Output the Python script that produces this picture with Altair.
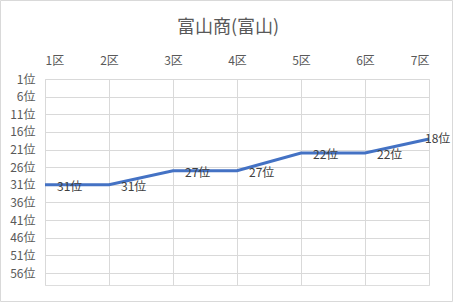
import altair as alt
import pandas as pd

sections = [1, 2, 3, 4, 5, 6, 7]
ranks = [31, 31, 27, 27, 22, 22, 18]
y_ticks = [1, 6, 11, 16, 21, 26, 31, 36, 41, 46, 51, 56]
title_text = "富山商(富山)"

df = pd.DataFrame({"section": sections, "rank": ranks})
df["label"] = df["rank"].astype(str) + "位"

FONT = "Noto Sans CJK JP"

x = alt.X("section:Q",
          scale=alt.Scale(domain=[1, 7], nice=False, zero=False),
          axis=alt.Axis(orient="top", values=sections, labelExpr="datum.value + '区'",
                        title=None, domain=False, ticks=False, grid=True,
                        gridColor="#d9d9d9", labelPadding=12, labelFontSize=12,
                        labelColor="#595959", labelFont=FONT))
y = alt.Y("rank:Q",
          scale=alt.Scale(domain=[1, 59.4], reverse=True, nice=False, zero=False),
          axis=alt.Axis(values=y_ticks, labelExpr="datum.value + '位'", title=None,
                        domain=False, ticks=False, grid=True, gridColor="#d9d9d9",
                        labelPadding=10, labelFontSize=12, labelColor="#595959",
                        labelFont=FONT))

base = alt.Chart(df)

line = base.mark_line(color="#4472C4", strokeWidth=3).encode(x=x, y=y)

labels_main = base.transform_filter("datum.section < 7").mark_text(
    align="left", baseline="middle", dx=12, dy=2, fontSize=12, color="#404040", font=FONT
).encode(x=x, y=y, text="label:N")

labels_last = base.transform_filter("datum.section == 7").mark_text(
    align="left", baseline="middle", dx=-4, dy=0, fontSize=12, color="#404040", font=FONT
).encode(x=x, y=y, text="label:N")

border = alt.Chart(pd.DataFrame({"a": [0]})).mark_rect(
    fill=None, stroke="#d9d9d9", strokeWidth=1
).encode(x=alt.value(-44.5), x2=alt.value(407.5), y=alt.value(-78.5), y2=alt.value(222.5))

chart = alt.layer(border, line, labels_main, labels_last).properties(
    width=384, height=206,
    title=alt.TitleParams(title_text, fontSize=18, color="#595959", font=FONT,
                          fontWeight="normal", anchor="middle", dx=-9, offset=-37),
    autosize=alt.AutoSizeParams(type="none"),
    padding={"left": 45, "top": 79, "right": 24, "bottom": 17},
).configure_view(stroke=None).configure(background="white")

chart.save("out.html", embed_options={"renderer": "svg", "actions": False})
